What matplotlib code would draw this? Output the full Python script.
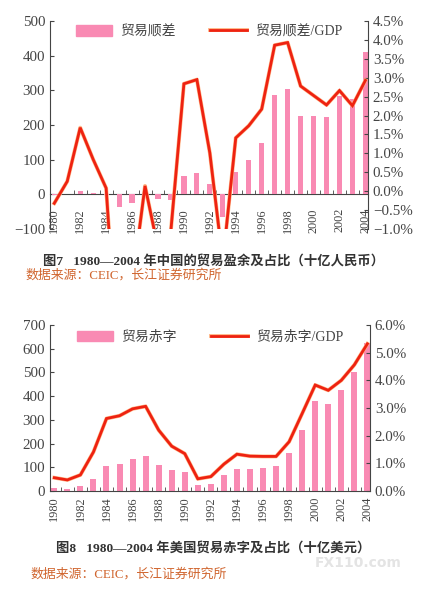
import numpy as np
import matplotlib
matplotlib.use("Agg")
import matplotlib.pyplot as plt
import matplotlib.patheffects as pe
from matplotlib.ticker import FuncFormatter, MultipleLocator

years = list(range(1980, 2005))

# China: trade surplus (bn RMB) and surplus / GDP (%)
cn_surplus = [-2, 0, 10, 5, -1, -36, -25, -3, -13, -17, 53, 61, 29, -65, 64,
              100, 148, 286, 305, 225, 225, 222, 285, 276, 410]
cn_ratio = [-0.32, 0.26, 1.68, 0.84, 0.08, -5.0, -2.5, 0.14, -1.5, -1.02, 2.84,
            2.95, 1.01, -1.86, 1.41, 1.73, 2.17, 3.86, 3.93, 2.78, 2.53, 2.28,
            2.66, 2.26, 2.93]

# USA: trade deficit (bn USD) and deficit / GDP (%)
us_deficit = [14, 10, 20, 52, 104, 115, 134, 146, 108, 87, 79, 27, 31, 68, 93,
              93, 97, 104, 162, 259, 379, 368, 425, 503, 623]
us_ratio = [0.48, 0.40, 0.58, 1.41, 2.62, 2.72, 2.97, 3.06, 2.2, 1.62, 1.35,
            0.44, 0.52, 0.97, 1.33, 1.26, 1.25, 1.25, 1.78, 2.8, 3.83, 3.64,
            4.0, 4.56, 5.32]

cap1 = "图7   1980—2004 年中国的贸易盈余及占比（十亿人民币）"
cap2 = "图8   1980—2004 年美国贸易赤字及占比（十亿美元）"
src = "数据来源：CEIC，长江证券研究所"

PINK = "#f98ab3"
RED = "#ee2211"
GREY = "#444444"
NUM_FONT = "Liberation Serif"
MIX = [NUM_FONT, "Noto Sans CJK SC", "DejaVu Sans"]

plt.rcParams["font.family"] = MIX
plt.rcParams["axes.unicode_minus"] = True

fig = plt.figure(figsize=(4.27, 5.90), dpi=100)


def pct(v, pos):
    return f"{v:.1f}%".replace("-", "\u2212")


def num(v, pos):
    return f"{v:.0f}".replace("-", "\u2212")


def draw(rect, bars, line, bar_lim, bar_step, pct_lim, pct_step, bar_label,
         line_label, bar_w, zero_axis, label_pad):
    ax = fig.add_axes(rect)
    ax.bar(years, bars, width=bar_w, color=PINK, zorder=2)
    ax.set_xlim(years[0] - 0.33, years[-1] + 0.2)
    ax.set_ylim(*bar_lim)
    ax.yaxis.set_major_locator(MultipleLocator(bar_step))
    ax.yaxis.set_major_formatter(FuncFormatter(num))
    ax.tick_params(axis="y", direction="in", length=3, labelsize=10.8,
                   labelcolor=GREY, color=GREY, labelfontfamily=NUM_FONT)
    for s in ["top", "right"]:
        ax.spines[s].set_visible(False)
    ax.spines["left"].set_color(GREY)
    if zero_axis:
        ax.spines["bottom"].set_visible(False)
        ax.set_xticks([])
        axis = ax.secondary_xaxis(0, transform=ax.transData)
    else:
        axis = ax
    axis.spines["bottom"].set_color(GREY)
    axis.set_xticks(years[::2])
    axis.set_xticks(np.arange(years[0] + 0.5, years[-1], 1.0), minor=True)
    axis.tick_params(axis="x", which="major", length=0, labelsize=8.8,
                     labelcolor=GREY, labelrotation=90, pad=label_pad,
                     labelfontfamily=NUM_FONT)
    axis.tick_params(axis="x", which="minor", direction="in", length=3,
                     color=GREY)

    ax2 = ax.twinx()
    ln, = ax2.plot(years, line, color=RED, lw=2.0, solid_joinstyle="miter",
                   path_effects=[pe.Stroke(linewidth=2.8, foreground="#ffb889",
                                           joinstyle="round"),
                                 pe.Normal()])
    ax2.set_ylim(*pct_lim)
    ax2.yaxis.set_major_locator(MultipleLocator(pct_step))
    ax2.yaxis.set_major_formatter(FuncFormatter(pct))
    ax2.tick_params(axis="y", direction="in", length=3, labelsize=10.8,
                    labelcolor=GREY, color=GREY, labelfontfamily=NUM_FONT)
    for s in ["top", "left", "bottom"]:
        ax2.spines[s].set_visible(False)
    ax2.spines["right"].set_color(GREY)

    patch = plt.Rectangle((0, 0), 1, 1, color=PINK)
    leg = ax2.legend([patch, ln], [bar_label, line_label], ncol=2,
                     loc="upper center", bbox_to_anchor=(0.5, 1.04),
                     frameon=False, handlelength=2.6, handleheight=0.8,
                     columnspacing=2.5, handletextpad=0.6,
                     prop={"family": MIX, "size": 10})
    for t in leg.get_texts():
        t.set_color(GREY)
    return ax


draw([50 / 427, 1 - 229 / 590, 318 / 427, 208 / 590], cn_surplus, cn_ratio,
     (-100, 500), 100, (-1.0, 4.5), 0.5, "贸易顺差", "贸易顺差/GDP", 0.4, True,
     10)
draw([50 / 427, 1 - 491 / 590, 320 / 427, 166 / 590], us_deficit, us_ratio,
     (0, 700), 100, (0.0, 6.0), 1.0, "贸易赤字", "贸易赤字/GDP", 0.46, False,
     4)

fig.text(214 / 427, 1 - 262 / 590, cap1, ha="center", va="center",
         fontsize=9.6, fontweight="bold", color="#333333", family=MIX)
fig.text(25 / 427, 1 - 275 / 590, src, ha="left", va="center",
         fontsize=9.3, color="#d0652e", family=MIX)
fig.text(213 / 427, 1 - 548 / 590, cap2, ha="center", va="center",
         fontsize=9.6, fontweight="bold", color="#333333", family=MIX)
fig.text(30 / 427, 1 - 574 / 590, src, ha="left", va="center",
         fontsize=9.3, color="#d0652e", family=MIX)
fig.text(402 / 427, 1 - 563 / 590, "FX110.com", ha="right", va="center",
         fontsize=10, color="#e4e4e4", fontweight="bold", family="DejaVu Sans")

fig.savefig("out.png", dpi=100)
